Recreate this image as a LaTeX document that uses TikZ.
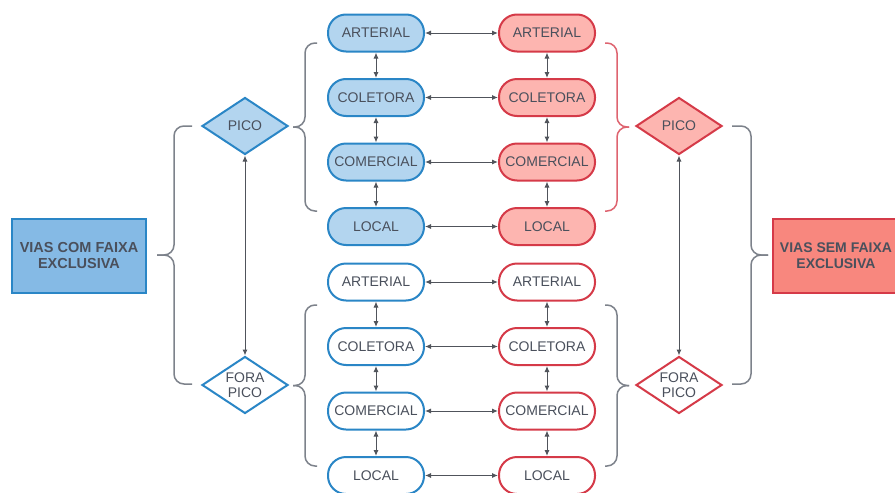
\documentclass[tikz,border=0pt]{standalone}
\usepackage{fontspec}
\setmainfont{Liberation Sans}
\usetikzlibrary{arrows.meta, positioning, shapes.geometric}
\definecolor{comBlue}{HTML}{2A86C6}
\definecolor{comFill}{HTML}{B3D5EF}
\definecolor{comBox}{HTML}{85BAE5}
\definecolor{semRed}{HTML}{D53A48}
\definecolor{semFill}{HTML}{FDB5B0}
\definecolor{semBox}{HTML}{F8877E}
\definecolor{textGray}{HTML}{4A505C}
\definecolor{lineGray}{HTML}{50545B}
\definecolor{braceGray}{HTML}{7D828B}
\definecolor{braceRed}{HTML}{DE6470}

\tikzset{
  via/.style={rectangle, rounded corners=18pt, minimum width=96pt, minimum height=37pt,
    line width=2pt, inner sep=0pt, text=textGray, font=\fontsize{14}{15}\selectfont},
  diam/.style={diamond, aspect=1.5, minimum width=86pt, minimum height=57pt,
    line width=2pt, inner sep=0pt, align=center, text=textGray, font=\fontsize{14}{15}\selectfont},
  box/.style={rectangle, minimum width=134pt, minimum height=74pt, line width=2pt,
    align=center, text=textGray, font=\fontsize{14.5}{16}\selectfont\bfseries},
  link/.style={{Latex[length=6pt,width=5pt]}-{Latex[length=6pt,width=5pt]}, lineGray, line width=1pt},
  curly/.style={braceGray, line width=1.5pt, rounded corners=10pt},
}
% half-brace pair: x end, x of the stem, x of the tip, y top, y bottom
\newcommand{\curly}[6][]{%
  \draw[curly,#1] (#2,#5) -- (#3,#5) -- (#3,{(#5+#6)/2}) -- (#4,{(#5+#6)/2});
  \draw[curly,#1] (#2,#6) -- (#3,#6) -- (#3,{(#5+#6)/2}) -- (#4,{(#5+#6)/2});
}

\begin{document}
\begin{tikzpicture}[x=1pt, y=-1pt]
    \clip (0,0) rectangle (895,493);

    % side boxes
    \node[box, draw=comBlue, fill=comBox] (comFaixa) at (79,256) {VIAS COM FAIXA\\EXCLUSIVA};
    \node[box, draw=semRed, fill=semBox, minimum width=126pt,
          font=\fontsize{14}{16}\selectfont\bfseries] (semFaixa) at (836,256) {VIAS SEM FAIXA\\EXCLUSIVA};

    % pico / fora pico
    \node[diam, draw=comBlue, fill=comFill] (picoC) at (245,126) {PICO};
    \node[diam, draw=comBlue, fill=white] (foraC) at (245,385) {FORA\\PICO};
    \node[diam, draw=semRed, fill=semFill] (picoS) at (679,126) {PICO};
    \node[diam, draw=semRed, fill=white] (foraS) at (679,385) {FORA\\PICO};

    % road classes
    \foreach \n/\t [count=\i from 0] in {Art/ARTERIAL, Col/COLETORA, Com/COMERCIAL, Loc/LOCAL} {
        \node[via, draw=comBlue, fill=comFill] (pc\n) at (376,{33+64.5*\i}) {\t};
        \node[via, draw=semRed, fill=semFill] (ps\n) at (547,{33+64.5*\i}) {\t};
        \node[via, draw=comBlue, fill=white] (fc\n) at (376,{282+64.5*\i}) {\t};
        \node[via, draw=semRed, fill=white] (fs\n) at (547,{282+64.5*\i}) {\t};
    }

    \foreach \n in {Art, Col, Com, Loc} {
        \draw[link] (pc\n) -- (ps\n);
        \draw[link] (fc\n) -- (fs\n);
    }
    \foreach \a/\b in {Art/Col, Col/Com, Com/Loc} {
        \draw[link] (pc\a) -- (pc\b);
        \draw[link] (ps\a) -- (ps\b);
        \draw[link] (fc\a) -- (fc\b);
        \draw[link] (fs\a) -- (fs\b);
    }
    \draw[link] (picoC) -- (foraC);
    \draw[link] (picoS) -- (foraS);

    % braces
    \curly{192}{174}{157}{126}{384}
    \curly{317}{305}{293}{43}{211}
    \curly{317}{305}{293}{305}{466}
    \curly[braceRed]{605}{617}{629}{43}{211}
    \curly{605}{617}{629}{305}{466}
    \curly{732}{751}{768}{126}{384}
\end{tikzpicture}
\end{document}
